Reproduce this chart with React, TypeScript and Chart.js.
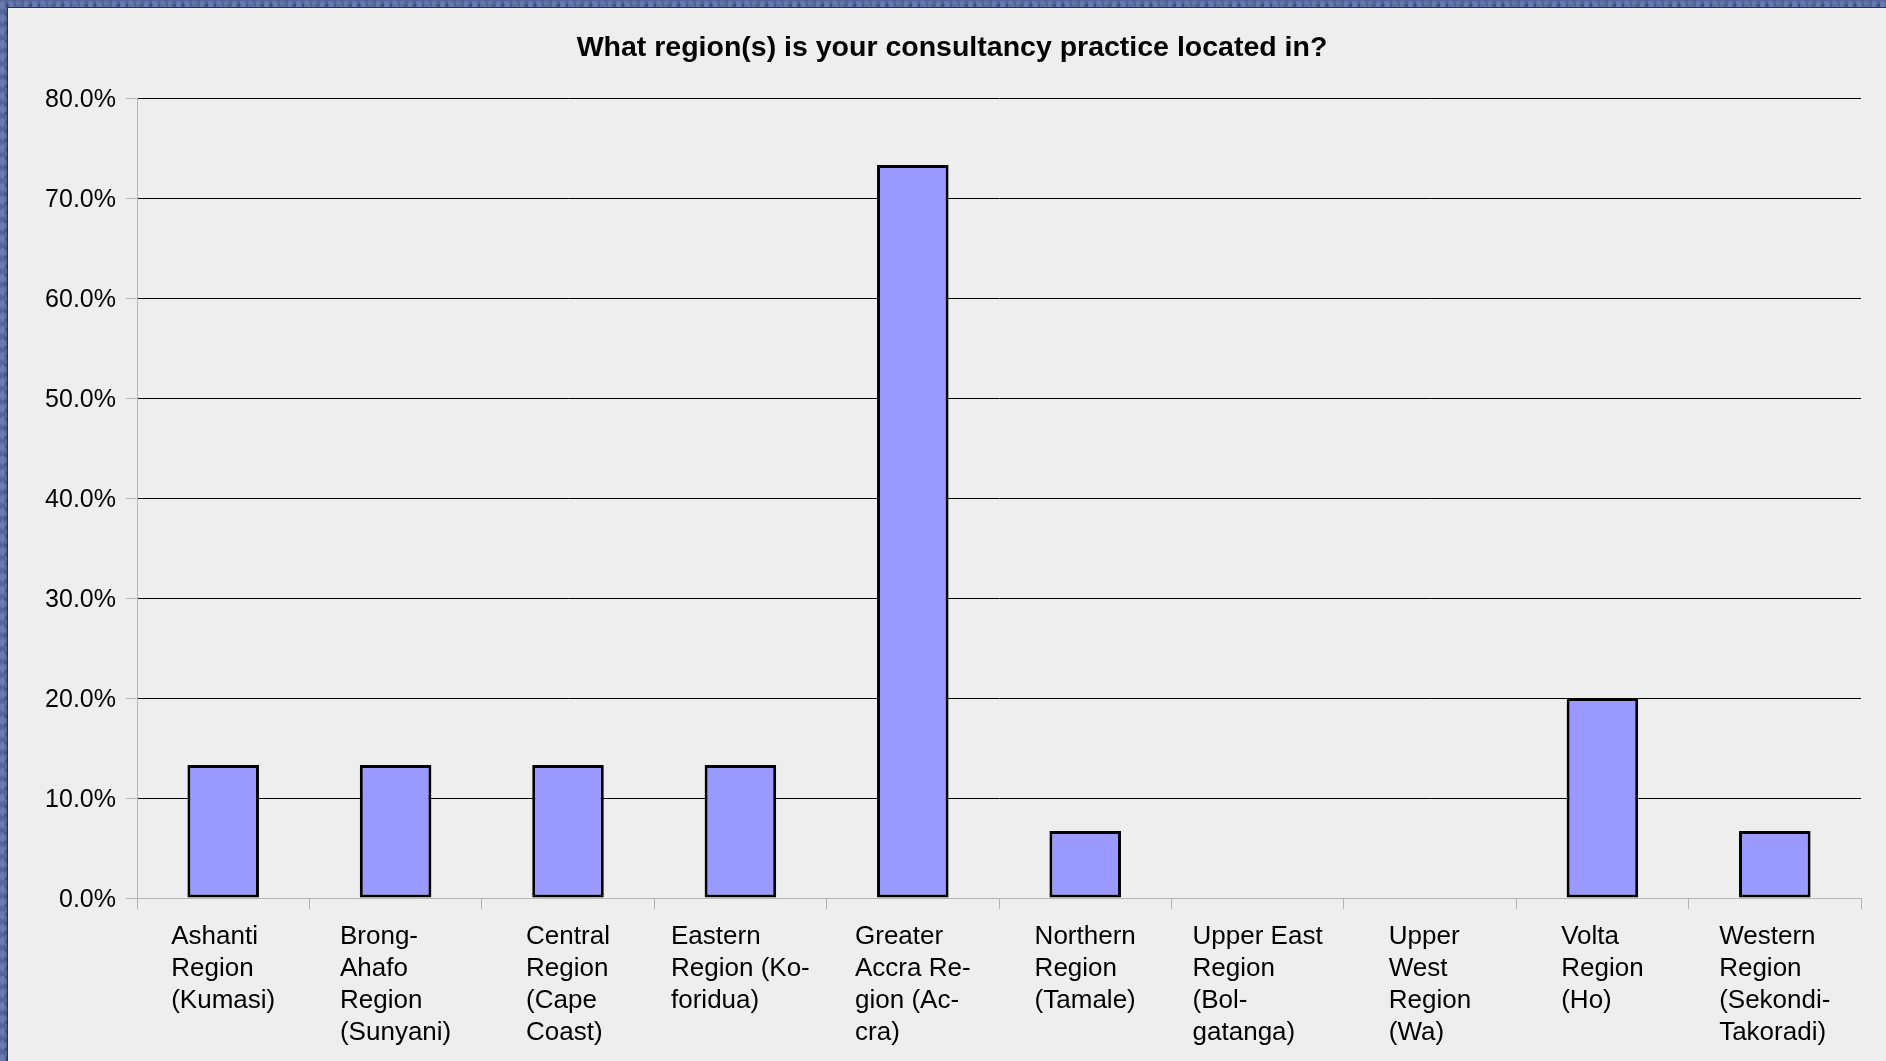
import { useEffect, useRef } from "react";
import { Chart, registerables } from "chart.js";

Chart.register(...registerables);

// Survey question and answer categories (each label wrapped onto several lines)
const chartTitle = "What region(s) is your consultancy practice located in?";
const regionLabels: string[][] = [
  ["Ashanti", "Region", "(Kumasi)"],
  ["Brong-", "Ahafo", "Region", "(Sunyani)"],
  ["Central", "Region", "(Cape", "Coast)"],
  ["Eastern", "Region (Ko-", "foridua)"],
  ["Greater", "Accra Re-", "gion (Ac-", "cra)"],
  ["Northern", "Region", "(Tamale)"],
  ["Upper East", "Region", "(Bol-", "gatanga)"],
  ["Upper", "West", "Region", "(Wa)"],
  ["Volta", "Region", "(Ho)"],
  ["Western", "Region", "(Sekondi-", "Takoradi)"],
];
// Share of respondents per region, in percent
const sharePercent: number[] = [13.3, 13.3, 13.3, 13.3, 73.3, 6.7, 0, 0, 20.0, 6.7];
// Value axis range
const axisMax = 80;
const axisStep = 10;

const FONT = "'Liberation Sans', Arial, Helvetica, sans-serif";
const AXIS_GRAY = "#b4b4b4";

// Title centred over the whole panel
const panelTitle = {
  id: "panelTitle",
  afterDraw(chart: any) {
    const ctx: CanvasRenderingContext2D = chart.ctx;
    ctx.save();
    ctx.font = `bold 28.5px ${FONT}`;
    ctx.fillStyle = "#000";
    ctx.textAlign = "center";
    ctx.textBaseline = "middle";
    ctx.fillText(chartTitle, chart.width / 2 + 5, 40);
    ctx.restore();
  },
};

// Category labels: each block centred under its bar, lines left-aligned
const blockLabels = {
  id: "blockLabels",
  afterDraw(chart: any) {
    const xs = chart.scales.x;
    const ctx: CanvasRenderingContext2D = chart.ctx;
    ctx.save();
    ctx.font = `26px ${FONT}`;
    ctx.fillStyle = "#000";
    ctx.textAlign = "left";
    ctx.textBaseline = "alphabetic";
    (chart.data.labels as string[][]).forEach((lines, i) => {
      const cx = xs.getPixelForValue(i);
      const w = Math.max(...lines.map((l) => ctx.measureText(l).width));
      const left = cx - w / 2;
      lines.forEach((line, j) => ctx.fillText(line, left, xs.top + 46 + j * 32));
    });
    ctx.restore();
  },
};

export default function App() {
  const canvasRef = useRef<HTMLCanvasElement | null>(null);

  useEffect(() => {
    if (!canvasRef.current) return;
    const chart = new Chart(canvasRef.current, {
      type: "bar",
      data: {
        labels: regionLabels as any,
        datasets: [
          {
            data: sharePercent,
            backgroundColor: "#9999ff",
            borderColor: "#000000",
            borderWidth: 3,
            borderSkipped: false,
            barPercentage: 0.415,
            categoryPercentage: 1,
          },
        ],
      },
      plugins: [panelTitle, blockLabels],
      options: {
        responsive: false,
        animation: false,
        layout: { padding: { left: 0, right: 25, top: 90, bottom: 0 } },
        plugins: {
          legend: { display: false },
          tooltip: { enabled: false },
          title: { display: false },
        },
        scales: {
          x: {
            offset: true,
            grid: {
              offset: true,
              drawOnChartArea: false,
              drawTicks: true,
              tickLength: 11,
              tickColor: AXIS_GRAY,
              color: AXIS_GRAY,
            },
            border: { color: AXIS_GRAY, width: 1 },
            ticks: { display: false },
            afterFit(scale: any) {
              scale.height = 163;
            },
          },
          y: {
            min: 0,
            max: axisMax,
            ticks: {
              stepSize: axisStep,
              color: "#000",
              padding: 10,
              labelOffset: 2,
              font: { family: FONT, size: 25 },
              callback: (v: any) => `${Number(v).toFixed(1)}%`,
            },
            grid: {
              color: (c: any) => (c.tick && c.tick.value === 0 ? AXIS_GRAY : "#000000"),
              tickColor: AXIS_GRAY,
              tickLength: 11,
              lineWidth: 1,
            },
            border: { color: AXIS_GRAY, width: 1 },
            afterFit(scale: any) {
              scale.width = 129;
            },
          },
        },
      },
    });
    return () => chart.destroy();
  }, []);

  return (
    <div
      style={{
        position: "fixed",
        inset: 0,
        overflow: "hidden",
        background:
          "radial-gradient(ellipse at 30% 40%, rgba(150,165,215,0.35) 0 2px, transparent 4px) 0 0/8px 13px," +
          "radial-gradient(ellipse at 70% 60%, rgba(25,32,70,0.35) 0 2px, transparent 4px) 0 0/11px 9px," +
          "radial-gradient(ellipse at 50% 50%, rgba(110,125,180,0.4) 0 3px, transparent 5px) 3px 2px/17px 19px," +
          "#55659c",
      }}
    >
      <div
        style={{
          position: "absolute",
          left: 7,
          top: 7,
          width: 1879,
          height: 1054,
          background: "#2b3150",
        }}
      >
        <div
          style={{
            position: "absolute",
            left: 1,
            top: 1,
            width: 1878,
            height: 1053,
            background: "#eeeeee",
          }}
        >
          <canvas ref={canvasRef} width={1878} height={1053} style={{ display: "block" }} />
        </div>
      </div>
    </div>
  );
}
